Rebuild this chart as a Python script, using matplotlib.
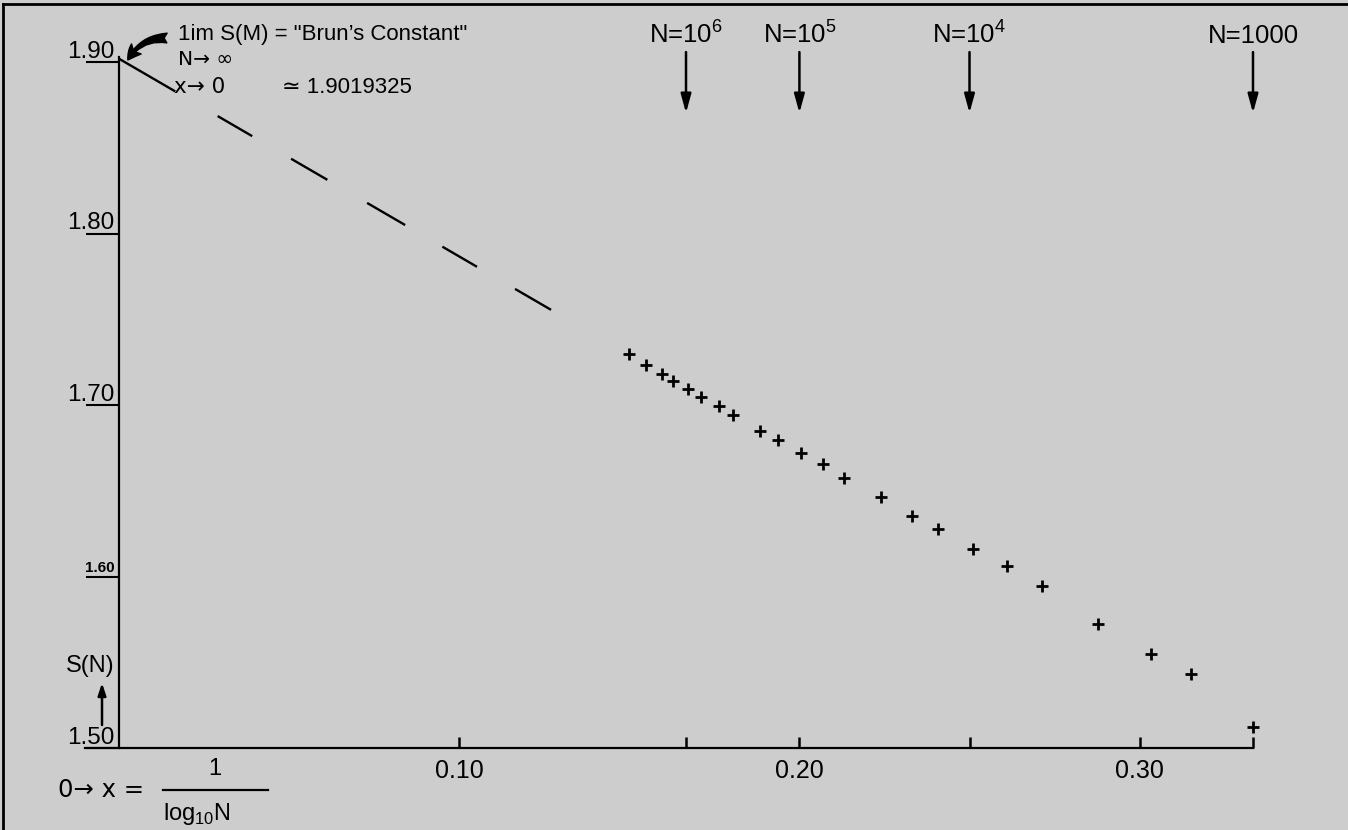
import matplotlib
matplotlib.use("Agg")
import matplotlib.pyplot as plt
from matplotlib.lines import Line2D

plt.rcParams['font.family'] = ['Liberation Sans', 'DejaVu Sans']
plt.rcParams['mathtext.fontset'] = 'custom'
plt.rcParams['mathtext.rm'] = 'Liberation Sans'
plt.rcParams['lines.scale_dashes'] = False

# computed partial sums S(N) against x = 1/log10(N)
x_vals = [0.1498, 0.1550, 0.1596, 0.1629, 0.1673, 0.1711, 0.1763, 0.1805,
          0.1885, 0.1938, 0.2005, 0.2070, 0.2131, 0.2241, 0.2331, 0.2407,
          0.2511, 0.2609, 0.2713, 0.2877, 0.3034, 0.3152, 0.3334]
s_vals = [1.7296, 1.7233, 1.7181, 1.7142, 1.7092, 1.7045, 1.6994, 1.6942,
          1.6847, 1.6796, 1.6722, 1.6654, 1.6573, 1.6462, 1.6355, 1.6275,
          1.6159, 1.6061, 1.5946, 1.5721, 1.5548, 1.5431, 1.5124]

# extrapolation towards x -> 0 (Brun's constant)
brun = 1.9019325
extrap_x = [0.0, 0.127]
extrap_y = [brun, 1.7555]

# N markers along the top
n_labels = [r'N=10$^{\mathregular{6}}$', r'N=10$^{\mathregular{5}}$',
            r'N=10$^{\mathregular{4}}$', 'N=1000']
n_x = [1 / 6, 1 / 5, 1 / 4, 1 / 3]

y_ticks = [1.50, 1.60, 1.70, 1.80, 1.90]
y_tick_labels = ['1.50', '1.60', '1.70', '1.80', '1.90']
x_ticks = [0.10, 0.20, 0.30]
x_tick_labels = ['0.10', '0.20', '0.30']

W, H = 1348, 830
bg = '#cdcdcd'
arrow_font = ['DejaVu Sans']


def px(x, y):
    # pixel position (from top-left) -> figure fraction
    return x / W, 1 - y / H


fig = plt.figure(figsize=(W / 100, H / 100), dpi=100, facecolor=bg)
ax = fig.add_axes([85 / W, 82 / H, 1168 / W, 691.1 / H])
ax.set_facecolor(bg)
ax.set_xlim(-0.01, 1 / 3)
ax.set_ylim(1.50, 1.903)

for side in ['top', 'right']:
    ax.spines[side].set_visible(False)
ax.spines['left'].set_position(('data', 0))
ax.spines['left'].set_linewidth(1.6)
ax.spines['bottom'].set_linewidth(1.6)

ax.set_yticks(y_ticks)
ax.tick_params(axis='y', direction='out', length=24, width=1.5,
               labelleft=False)
ax.set_xticks(x_ticks)
ax.set_xticklabels(x_tick_labels, fontsize=18)
ax.set_xticks(n_x, minor=True)
ax.tick_params(axis='x', which='both', direction='in', length=8, width=1.8,
               pad=8)

# y labels sit on top of their tick lines
for yv, lab in zip(y_ticks, y_tick_labels):
    small = lab == '1.60'
    ax.annotate(lab, xy=(0, yv), xytext=(-3, 3), textcoords='offset points',
                ha='right', va='baseline',
                fontsize=11 if small else 17.5,
                fontweight='bold' if small else 'normal',
                annotation_clip=False)

# data points and extrapolated line
ax.plot(x_vals, s_vals, linestyle='none', marker='+', markersize=8,
        markeredgewidth=2, color='black', clip_on=False)
ax.plot(extrap_x, extrap_y, color='black', linewidth=1.7,
        dashes=[46.8, 35.3, 28.8, 32.4, 30.2, 33.1, 31.7, 31.0, 28.8, 31.7,
                31.0, 72], clip_on=False)

# arrows marking N values
for xv, lab in zip(n_x, n_labels):
    ax.annotate('', xy=(xv, 1.8703), xytext=(xv, 1.9058),
                arrowprops=dict(arrowstyle='-|>,head_length=0.8,head_width=0.22',
                                lw=1.8, color='black', mutation_scale=14,
                                shrinkA=0, shrinkB=0),
                annotation_clip=False)
    ax.text(xv, 1.9111, lab, ha='center', va='baseline', fontsize=18.5,
            clip_on=False)

# Brun's constant annotation
ax.text(0.0173, 1.9128, '1im S(M) = "Brun\u2019s Constant"', fontsize=16,
        va='baseline', clip_on=False)
ax.text(0.0173, 1.8980, 'N\u2192 \u221e', fontsize=14.5, va='baseline',
        family=arrow_font, clip_on=False)
ax.text(0.0163, 1.8820, 'x\u2192 0', fontsize=15.5, va='baseline',
        family=arrow_font, clip_on=False)
ax.text(0.0480, 1.8820, '\u2243 1.9019325', fontsize=16, va='baseline',
        clip_on=False)
ax.annotate('', xy=(0.0026, 1.9012), xytext=(0.0141, 1.9140),
            arrowprops=dict(arrowstyle='fancy,head_length=0.5,head_width=0.5,tail_width=0.35',
                            connectionstyle='arc3,rad=0.3', color='black',
                            mutation_scale=20, shrinkA=0, shrinkB=0),
            annotation_clip=False)

# y axis label with arrow
ax.text(-0.0085, 1.5478, 'S(N)', fontsize=17, ha='center', va='center',
        clip_on=False)
ax.annotate('', xy=(-0.005, 1.5379), xytext=(-0.005, 1.5134),
            arrowprops=dict(arrowstyle='-|>,head_length=0.6,head_width=0.2',
                            lw=1.8, color='black', mutation_scale=12,
                            shrinkA=0, shrinkB=0),
            annotation_clip=False)

# x axis label: 0 -> x = 1 / log10 N
fig.text(*px(58, 797), '0\u2192 x =', fontsize=17.5, va='baseline',
         family=arrow_font)
fig.text(*px(215, 775), '1', fontsize=17, ha='center', va='baseline')
fig.add_artist(Line2D([163 / W, 268 / W], [1 - 790 / H, 1 - 790 / H],
                      color='black', linewidth=1.6,
                      transform=fig.transFigure))
fig.text(*px(163, 820), r'log$_{\mathregular{10}}$N', fontsize=17,
         va='baseline')

# frame lines of the scanned page
fig.add_artist(Line2D([3 / W, 1], [1 - 4 / H, 1 - 4 / H], color='black',
                      linewidth=2, transform=fig.transFigure))
fig.add_artist(Line2D([3 / W, 3 / W], [0, 1 - 4 / H], color='black',
                      linewidth=2, transform=fig.transFigure))

fig.savefig('out.png', dpi=100, facecolor=bg)
